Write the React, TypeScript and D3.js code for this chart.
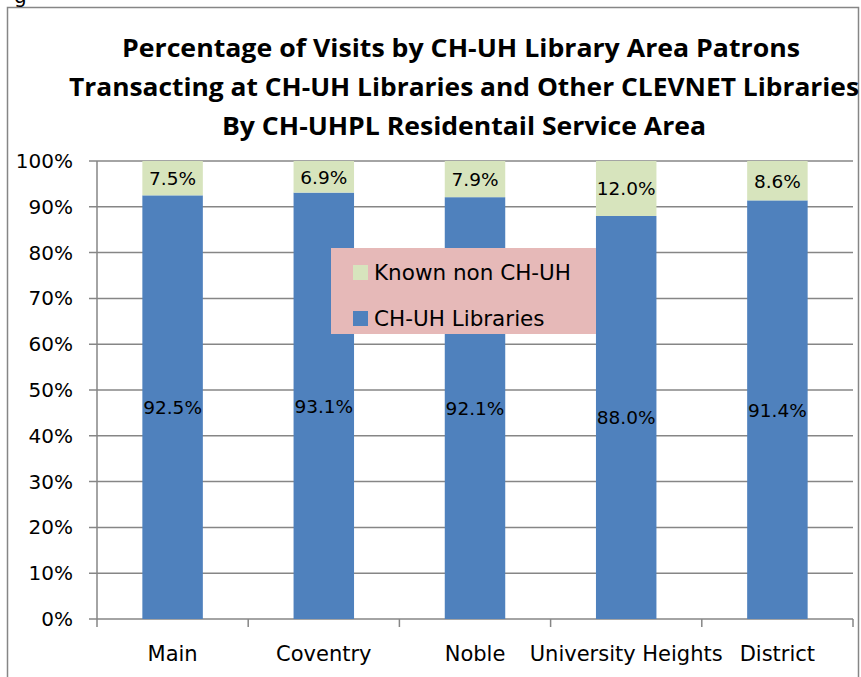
import * as d3 from "d3";
import { useEffect, useRef } from "react";

const categories = ["Main", "Coventry", "Noble", "University Heights", "District"];
const chuhValues = [92.5, 93.1, 92.1, 88.0, 91.4];
const otherValues = [7.5, 6.9, 7.9, 12.0, 8.6];
const seriesNames = ["Known non CH-UH", "CH-UH Libraries"];
const yTicks = [0, 10, 20, 30, 40, 50, 60, 70, 80, 90, 100];
const titleLines = [
    "Percentage of Visits by CH-UH Library Area Patrons",
    "Transacting at CH-UH Libraries and Other CLEVNET Libraries",
    "By CH-UHPL Residentail Service Area",
];

const width = 861;
const height = 677;
const titleFont = "'Open Sans', 'Noto Sans', sans-serif";
const font = "'DejaVu Sans', 'Noto Sans', sans-serif";

export default function App() {
    const svgRef = useRef<SVGSVGElement>(null);

    useEffect(() => {
        const svg = d3.select(svgRef.current);
        svg.selectAll("*").remove();

        const plot = { left: 97, right: 853, top: 161, bottom: 619 };

        // outer chart border
        svg.append("rect")
            .attr("x", 7.5).attr("y", 7.5)
            .attr("width", 851).attr("height", 700)
            .attr("fill", "white")
            .attr("stroke", "#868686").attr("stroke-width", 1.5);

        // clipped caption fragment above the chart
        svg.append("text")
            .attr("x", 14).attr("y", 3)
            .attr("font-family", font).attr("font-size", 20)
            .text("g");

        // title
        const titleWidths = [678, 790, 484];
        const titleCenters = [461, 464, 464];
        const titleBase = [57, 96, 135];
        titleLines.forEach((t, i) => {
            svg.append("text")
                .attr("x", titleCenters[i]).attr("y", titleBase[i])
                .attr("text-anchor", "middle")
                .attr("font-family", titleFont).attr("font-weight", "bold")
                .attr("font-size", 24.5)
                .attr("textLength", titleWidths[i])
                .attr("lengthAdjust", "spacingAndGlyphs")
                .text(t);
        });

        const x = d3.scaleBand<string>()
            .domain(categories)
            .range([plot.left, plot.right])
            .paddingInner(0.6)
            .paddingOuter(0.3);

        const y = d3.scaleLinear()
            .domain([0, 100])
            .range([plot.bottom, plot.top]);

        // gridlines
        svg.append("g")
            .selectAll("line")
            .data(yTicks)
            .join("line")
            .attr("x1", plot.left - 8).attr("x2", plot.right)
            .attr("y1", d => y(d)).attr("y2", d => y(d))
            .attr("stroke", "#868686").attr("stroke-width", 1.5);

        // y axis line
        svg.append("line")
            .attr("x1", plot.left).attr("x2", plot.left)
            .attr("y1", plot.top).attr("y2", plot.bottom)
            .attr("stroke", "#868686").attr("stroke-width", 1.5);

        // y labels
        svg.append("g")
            .selectAll("text")
            .data(yTicks)
            .join("text")
            .attr("x", 73).attr("y", d => y(d) + 7)
            .attr("text-anchor", "end")
            .attr("font-family", font).attr("font-size", 20)
            .text(d => `${d}%`);

        // x ticks at band edges
        const edges = d3.range(categories.length + 1).map(i => plot.left + i * (plot.right - plot.left) / categories.length);
        svg.append("g")
            .selectAll("line")
            .data(edges)
            .join("line")
            .attr("x1", d => d).attr("x2", d => d)
            .attr("y1", plot.bottom).attr("y2", plot.bottom + 8)
            .attr("stroke", "#868686").attr("stroke-width", 1.5);

        // bars
        const rows = categories.map((c, i) => ({ c, a: chuhValues[i], b: otherValues[i] }));
        const bars = svg.append("g");
        bars.selectAll("rect.a")
            .data(rows)
            .join("rect")
            .attr("class", "a")
            .attr("x", d => x(d.c)!)
            .attr("width", x.bandwidth())
            .attr("y", d => y(d.a))
            .attr("height", d => y(0) - y(d.a))
            .attr("fill", "#4F81BD");
        bars.selectAll("rect.b")
            .data(rows)
            .join("rect")
            .attr("class", "b")
            .attr("x", d => x(d.c)!)
            .attr("width", x.bandwidth())
            .attr("y", d => y(d.a + d.b))
            .attr("height", d => y(d.a) - y(d.a + d.b))
            .attr("fill", "#D7E4BD");

        // data labels
        bars.selectAll("text.a")
            .data(rows)
            .join("text")
            .attr("class", "a")
            .attr("x", d => x(d.c)! + x.bandwidth() / 2)
            .attr("y", d => y(d.a / 2) + 7)
            .attr("text-anchor", "middle")
            .attr("font-family", font).attr("font-size", 18.5)
            .text(d => `${d.a.toFixed(1)}%`);
        bars.selectAll("text.b")
            .data(rows)
            .join("text")
            .attr("class", "b")
            .attr("x", d => x(d.c)! + x.bandwidth() / 2)
            .attr("y", d => y(d.a + d.b / 2) + 7)
            .attr("text-anchor", "middle")
            .attr("font-family", font).attr("font-size", 18.5)
            .text(d => `${d.b.toFixed(1)}%`);

        // category labels
        svg.append("g")
            .selectAll("text")
            .data(categories)
            .join("text")
            .attr("x", d => x(d)! + x.bandwidth() / 2)
            .attr("y", 661)
            .attr("text-anchor", "middle")
            .attr("font-family", font).attr("font-size", 21)
            .text(d => d);

        // legend
        const legend = svg.append("g").attr("transform", "translate(331,248)");
        legend.append("rect")
            .attr("width", 265).attr("height", 86)
            .attr("fill", "#E6B9B8");
        const colors = ["#D7E4BD", "#4F81BD"];
        seriesNames.forEach((n, i) => {
            legend.append("rect")
                .attr("x", 22).attr("y", 17 + i * 46)
                .attr("width", 15).attr("height", 15)
                .attr("fill", colors[i]);
            legend.append("text")
                .attr("x", 43).attr("y", 32 + i * 46)
                .attr("font-family", font).attr("font-size", 21.5)
                .text(n);
        });
    }, []);

    return <svg ref={svgRef} width={width} height={height} style={{ display: "block", position: "absolute", left: 0, top: 0 }} />;
}
